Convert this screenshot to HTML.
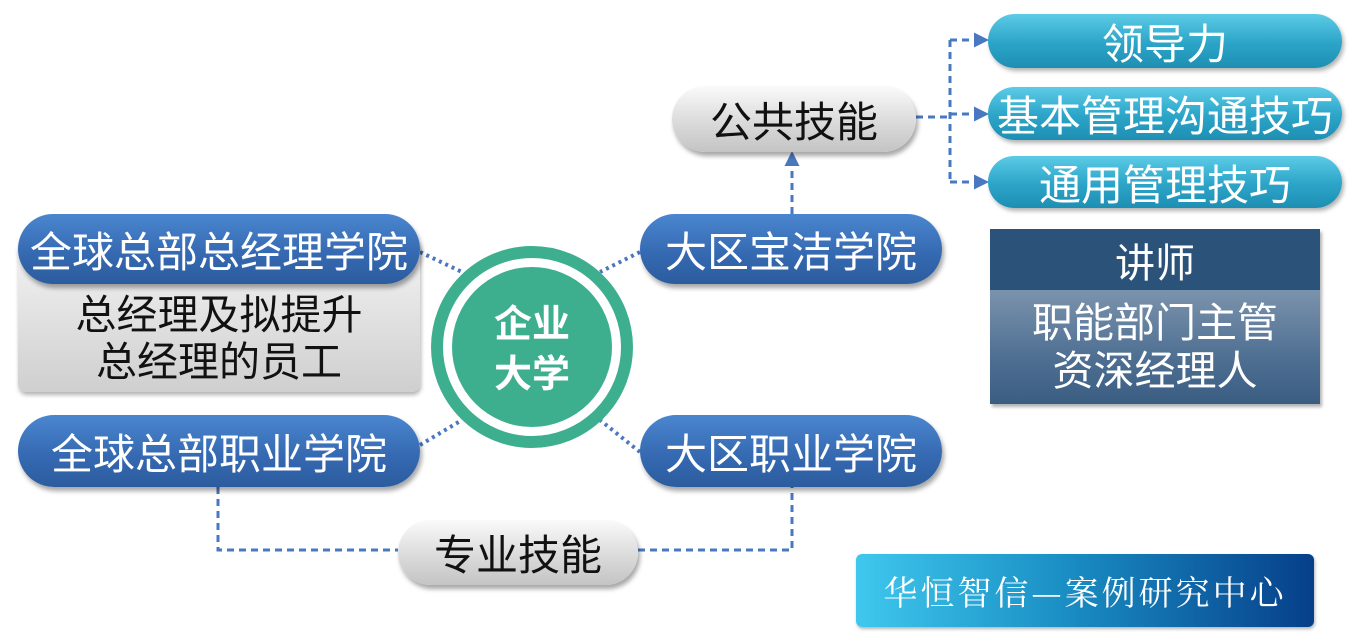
<!DOCTYPE html>
<html><head><meta charset="utf-8"><style>
body{margin:0;width:1366px;height:634px;background:#fff;position:relative;overflow:hidden;font-family:"Liberation Sans","Noto Sans CJK SC",sans-serif}
.a{position:absolute;display:flex;align-items:center;justify-content:center;box-sizing:border-box;white-space:nowrap}
.blue{background:linear-gradient(#4a86cf,#3468b0 60%,#2c5c9e);color:#fff;border-radius:36px;font-size:42px;box-shadow:2px 4px 5px rgba(0,0,0,.35)}
.gray{background:linear-gradient(#fafafa,#d8d8d8 60%,#c4c4c4);color:#111;border-radius:34px;font-size:42px;box-shadow:2px 4px 5px rgba(0,0,0,.35)}
.teal{background:linear-gradient(#5ccbe6,#2ba4c8 55%,#1e8fb3);color:#fff;border-radius:28px;font-size:42px;box-shadow:2px 3px 4px rgba(0,0,0,.3)}
</style></head><body>
<svg width="1366" height="634" style="position:absolute;left:0;top:0">
<defs><marker id="ar" markerWidth="5" markerHeight="5" refX="4" refY="2.5" orient="auto" markerUnits="strokeWidth"><path d="M0,0L5,2.5L0,5z" fill="#4a78c0"/></marker></defs>
<g stroke="#4a78c0" stroke-width="3" fill="none" stroke-dasharray="7,5">
<path d="M916,117H950"/><path d="M950,40V182"/>
<path d="M950,40H986" marker-end="url(#ar)"/><path d="M950,114H986" marker-end="url(#ar)"/><path d="M950,182H986" marker-end="url(#ar)"/>
<path d="M792,214V154" marker-end="url(#ar)"/>
<path d="M218,487V550H398"/><path d="M638,550H792V487"/>
</g>
<g stroke="#4a78c0" stroke-width="4" stroke-dasharray="3,4">
<path d="M420,252L462,272"/><path d="M420,445L462,420"/><path d="M640,252L600,272"/><path d="M640,452L600,420"/>
</g>
<circle cx="532" cy="347" r="95" fill="#fff" stroke="#3daf8f" stroke-width="12"/>
<circle cx="532" cy="347" r="80" fill="#3daf8f"/>
<text x="532" y="337" font-size="38" font-weight="bold" fill="#fff" text-anchor="middle" font-family="Noto Sans CJK SC,sans-serif">企业</text>
<text x="532" y="387" font-size="38" font-weight="bold" fill="#fff" text-anchor="middle" font-family="Noto Sans CJK SC,sans-serif">大学</text>
</svg>
<div class="a" style="left:18px;top:240px;width:402px;height:152px;background:linear-gradient(#f4f4f4,#cfcfcf);border-radius:8px;box-shadow:1px 3px 4px rgba(0,0,0,.3);flex-direction:column;padding-top:46px;font-size:41px;line-height:47px;color:#111"><div>总经理及拟提升</div><div>总经理的员工</div></div>
<div class="a blue" style="left:18px;top:214px;width:402px;height:70px">全球总部总经理学院</div>
<div class="a blue" style="left:18px;top:415px;width:402px;height:72px">全球总部职业学院</div>
<div class="a blue" style="left:640px;top:214px;width:302px;height:70px">大区宝洁学院</div>
<div class="a blue" style="left:640px;top:415px;width:302px;height:72px">大区职业学院</div>
<div class="a gray" style="left:672px;top:86px;width:244px;height:66px">公共技能</div>
<div class="a gray" style="left:398px;top:520px;width:240px;height:65px">专业技能</div>
<div class="a teal" style="left:988px;top:14px;width:354px;height:54px">领导力</div>
<div class="a teal" style="left:988px;top:87px;width:354px;height:53px">基本管理沟通技巧</div>
<div class="a teal" style="left:988px;top:156px;width:354px;height:52px">通用管理技巧</div>
<div class="a" style="left:990px;top:229px;width:330px;height:61px;background:#2b5278;color:#fff;font-size:40px;box-shadow:2px 3px 3px rgba(0,0,0,.3)">讲师</div>
<div class="a" style="left:990px;top:290px;width:330px;height:114px;background:linear-gradient(#7b93ad,#4e6f92 60%,#3a5d82);color:#fff;font-size:41px;flex-direction:column;line-height:48px;box-shadow:2px 3px 3px rgba(0,0,0,.3)"><div>职能部门主管</div><div>资深经理人</div></div>
<div class="a" style="left:856px;top:554px;width:458px;height:73px;background:linear-gradient(90deg,#3fc8ee,#1a8fc4 45%,#063f8a);border-radius:6px;color:#fff;font-size:34px;font-family:'Noto Serif CJK SC',serif;letter-spacing:3px;box-shadow:1px 2px 3px rgba(0,0,0,.3)">华恒智信—案例研究中心</div>
</body></html>
